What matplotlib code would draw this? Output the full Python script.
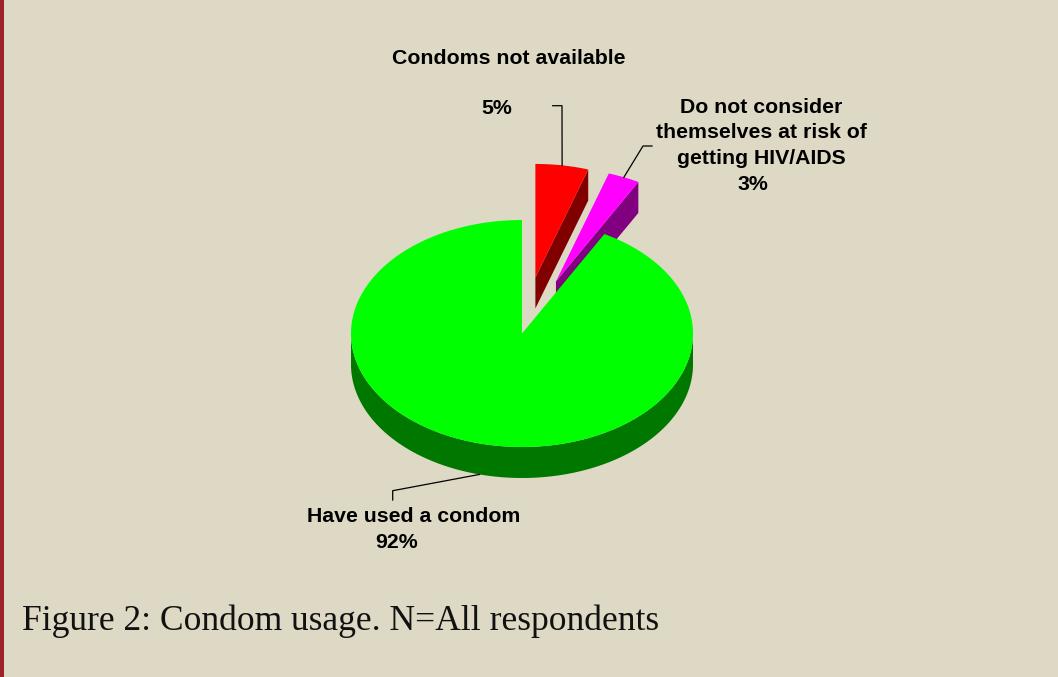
import numpy as np
import matplotlib.pyplot as plt
from matplotlib.patches import Polygon, Rectangle

# data
labels = ["Condoms not available",
          "Do not consider\nthemselves at risk of\ngetting HIV/AIDS",
          "Have used a condom"]
values = [5, 3, 92]
top_colors = ['#ff0000', '#ff00ff', '#00ff00']
side_colors = ['#800000', '#800080', '#007800']
explode = [0.5, 0.5, 0.0]

# geometry of the fake 3D pie (pixel space)
W, H = 1058, 677
cx, cy = 522, 333.5
rx, ry = 171, 113.5
depth = 31
bg = '#ddd9c4'

fig = plt.figure(figsize=(W / 100, H / 100), dpi=100, facecolor=bg)
ax = fig.add_axes([0, 0, 1, 1])
ax.set_xlim(0, W)
ax.set_ylim(H, 0)
ax.axis('off')
ax.set_facecolor(bg)

# left border strip
ax.add_patch(Rectangle((0, 0), 4, H, color='#9e2328', lw=0))


def pt(c, th, r=1.0, dz=0.0):
    return (c[0] + r * rx * np.cos(th), c[1] - r * ry * np.sin(th) + dz)


# slice angles: start at 12 o'clock, go clockwise
total = float(sum(values))
slices = []
start = 90.0
for v in values:
    span = 360.0 * v / total
    slices.append((start - span, start))
    start -= span


def draw_slice(i):
    a1, a2 = np.radians(slices[i][0]), np.radians(slices[i][1])
    mid = 0.5 * (a1 + a2)
    c = (cx + explode[i] * rx * np.cos(mid), cy - explode[i] * ry * np.sin(mid))
    # radial face at the clockwise end, only if it faces the viewer
    if -np.cos(a1) < 0:
        p = pt(c, a1)
        ax.add_patch(Polygon([c, p, (p[0], p[1] + depth), (c[0], c[1] + depth)],
                             closed=True, fc=side_colors[i], ec='none', zorder=2))
    # outer wall: front half only
    th = np.linspace(a1, a2, 400)
    front = th[np.sin(th) < 0]
    if len(front) > 1:
        upper = [pt(c, t) for t in front]
        lower = [pt(c, t, dz=depth) for t in front[::-1]]
        ax.add_patch(Polygon(upper + lower, closed=True, fc=side_colors[i], ec='none', zorder=2))
    # top face
    arc = [pt(c, t) for t in th]
    ax.add_patch(Polygon([c] + arc, closed=True, fc=top_colors[i], ec='none', zorder=3))
    return c, mid


bold = dict(family='Liberation Sans', fontweight='bold', fontsize=15.3, color='black')

# exploded slices first, then the big one on top
anchors = {}
for i in [0, 1, 2]:
    anchors[i] = draw_slice(i)

# labels and leader lines
c, mid = anchors[0]
tip = pt(c, mid)
ax.plot([552.7, 562, tip[0]], [105.7, 105.7, tip[1]], color='black', lw=0.9, zorder=5)
ax.text(509, 59, labels[0], ha='center', va='center', **bold)
ax.text(497, 108, f"{values[0]}%", ha='center', va='center', **bold)

c, mid = anchors[1]
tip = pt(c, mid)
ax.plot([652, 643, tip[0]], [146, 146, tip[1]], color='black', lw=0.9, zorder=5)
ax.text(761, 133, labels[1], ha='center', va='center', linespacing=1.45, **bold)
ax.text(753, 184, f"{values[1]}%", ha='center', va='center', **bold)

c, mid = anchors[2]
tip = pt(c, mid, dz=depth)
ax.plot([392.7, 392.7, tip[0]], [500, 490.7, tip[1]], color='black', lw=0.9, zorder=5)
ax.text(414, 517, labels[2], ha='center', va='center', **bold)
ax.text(397, 542, f"{values[2]}%", ha='center', va='center', **bold)

# caption
ax.text(22, 630, "Figure 2: Condom usage. N=All respondents", ha='left', va='baseline',
        family='Liberation Serif', fontsize=25.6, color='#111111')

fig.savefig('out.png', dpi=100, facecolor=bg)
